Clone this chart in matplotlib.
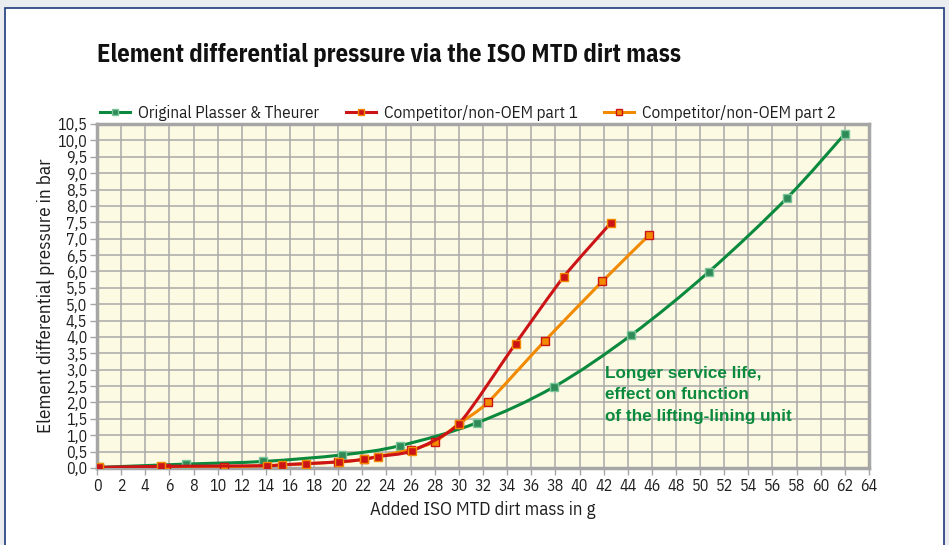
import matplotlib
matplotlib.use("Agg")
import matplotlib.pyplot as plt
from matplotlib.path import Path
from matplotlib.patches import PathPatch, Rectangle
import numpy as np

plt.rcParams['font.family'] = ['IBM Plex Sans Condensed', 'DejaVu Sans']

# ---- data ----
green_x = [0.2, 7.4, 13.8, 20.3, 25.1, 31.5, 37.9, 44.3, 50.7, 57.2, 62.0]
green_y = [0.02, 0.12, 0.20, 0.40, 0.68, 1.38, 2.48, 4.06, 5.98, 8.24, 10.20]

red_x = [0.2, 5.3, 14.1, 15.3, 17.3, 20.1, 22.1, 23.3, 26.1, 30.0, 34.7, 38.7, 42.6]
red_y = [0.02, 0.05, 0.07, 0.10, 0.13, 0.19, 0.26, 0.35, 0.52, 1.35, 3.80, 5.84, 7.48]

orange_x = [0.2, 5.7, 10.5, 20.0, 22.1, 26.0, 28.0, 30.0, 32.4, 37.1, 41.9, 45.8]
orange_y = [0.00, 0.00, 0.02, 0.18, 0.27, 0.56, 0.80, 1.35, 2.00, 3.87, 5.70, 7.12]

series_labels = ["Original Plasser & Theurer", "Competitor/non-OEM part 1", "Competitor/non-OEM part 2"]
x_ticks = list(range(0, 65, 2))
y_ticks = [i * 0.5 for i in range(22)]
y_tick_labels = [f"{v:.1f}".replace(".", ",") for v in y_ticks]

title = "Element differential pressure via the ISO MTD dirt mass"
x_label = "Added ISO MTD dirt mass in g"
y_label = "Element differential pressure in bar"
note = "Longer service life,\neffect on function\nof the lifting-lining unit"

GREEN = "#0b8a3e"
RED = "#cc1417"
ORANGE = "#f28a00"
TXT = "#1e1e1e"

W, H = 949, 545
fig = plt.figure(figsize=(W / 100, H / 100), dpi=100)
fig.patch.set_facecolor("#eaecef")
# white panel with dark blue border
fig.add_artist(Rectangle((5 / W, -0.05), (944 - 5) / W, (H - 8) / H + 0.05,
                         transform=fig.transFigure, facecolor="white",
                         edgecolor="#1f3a7a", linewidth=1.2, zorder=0))

ax = fig.add_axes([97 / W, 1 - 468 / H, (869 - 97) / W, (468 - 124) / H])
ax.set_facecolor("#fdfae3")
ax.set_xlim(0, 64)
ax.set_ylim(0, 10.5)
ax.set_xticks(x_ticks)
ax.set_xticklabels([str(t) for t in x_ticks], fontsize=11.5)
ax.set_yticks(y_ticks)
ax.set_yticklabels(y_tick_labels, fontsize=11.5)
ax.grid(True, color="#a9a9a9", linewidth=1.1, zorder=1)
ax.set_axisbelow(True)
for s in ax.spines.values():
    s.set_color("#a6a6a6")
    s.set_linewidth(2.5)
ax.tick_params(axis="both", colors="#a6a6a6", labelcolor=TXT, length=5, width=1)
ax.tick_params(axis="x", pad=2.5)
ax.tick_params(axis="y", pad=2)


def smooth_path(xs, ys, k=8.0):
    pts = np.column_stack([xs, ys]).astype(float)
    n = len(pts)
    verts = [pts[0]]
    codes = [Path.MOVETO]
    for i in range(n - 1):
        p0 = pts[i - 1] if i > 0 else pts[i]
        p1 = pts[i]
        p2 = pts[i + 1]
        p3 = pts[i + 2] if i + 2 < n else pts[i + 1]
        c1 = p1 + (p2 - p0) / k
        c2 = p2 - (p3 - p1) / k
        verts += [c1, c2, p2]
        codes += [Path.CURVE4] * 3
    return Path(verts, codes)


def draw(xs, ys, color, mfc, mec, label, z, k):
    ax.add_patch(PathPatch(smooth_path(xs, ys, k), facecolor="none", edgecolor=color,
                           linewidth=2.2, zorder=z, capstyle="round"))
    ax.plot(xs, ys, linestyle="none", marker="s", markersize=5.5,
            markerfacecolor=mfc, markeredgecolor=mec, markeredgewidth=1.0, zorder=z + 0.5)
    return ax.plot([], [], color=color, linewidth=2.2, marker="s", markersize=5.0,
                   markerfacecolor=mfc, markeredgecolor=mec, label=label)[0]


h1 = draw(green_x, green_y, GREEN, "#2e8b57", "#7cc59a", series_labels[0], 3, 6.0)
h3 = draw(orange_x, orange_y, ORANGE, ORANGE, RED, series_labels[2], 4, 9.0)
h2 = draw(red_x, red_y, RED, RED, ORANGE, series_labels[1], 5, 9.0)

leg = ax.legend(handles=[h1, h2, h3], loc="lower left", bbox_to_anchor=(0.0, 1.0),
                ncol=3, frameon=False, fontsize=12.3, handlelength=1.75,
                handletextpad=0.47, columnspacing=1.55, borderaxespad=0.2,
                borderpad=0.0)
for t in leg.get_texts():
    t.set_color(TXT)

fig.text(97 / W, 1 - 55 / H, title, fontsize=17.7, fontweight="bold",
         ha="left", va="center", color="#111111")
ax.set_xlabel(x_label, fontsize=13.5, color=TXT, labelpad=5)
ax.set_ylabel(y_label, fontsize=13.8, color=TXT, labelpad=1.5)

ax.text(42.1, 3.12, note, fontsize=12.3, fontweight="bold", color=GREEN,
        family=["Liberation Sans", "DejaVu Sans"], ha="left", va="top",
        linespacing=1.55, zorder=6)

fig.savefig("out.png", dpi=100, facecolor=fig.get_facecolor())
